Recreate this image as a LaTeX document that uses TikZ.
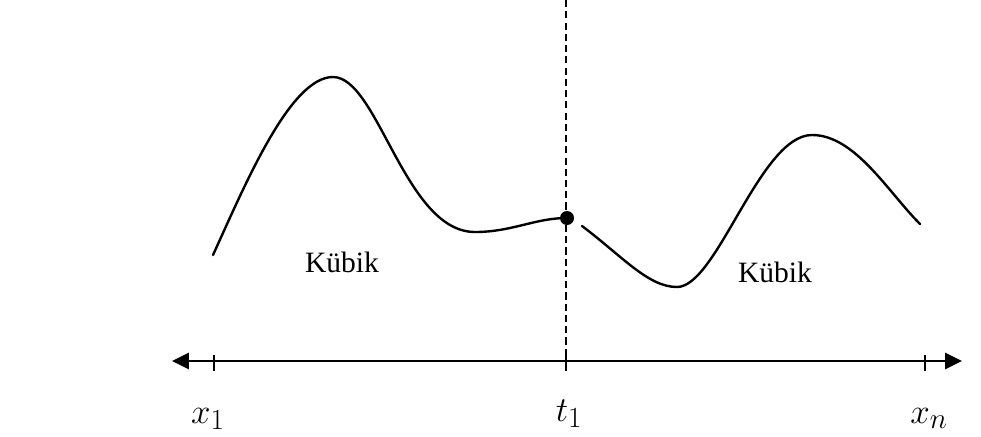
\documentclass[tikz,border=0pt]{standalone}
\usepackage{fontspec}
\usepackage{tikz}
\usetikzlibrary{arrows.meta, positioning, calc}

\newfontfamily\kubikfont{Liberation Serif}

\begin{document}
\begin{tikzpicture}[
    x=0.025cm, y=-0.025cm,
    axis/.style={line width=1.7pt, {Triangle[length=0.42cm, width=0.4cm]}-{Triangle[length=0.42cm, width=0.4cm]}},
    tick/.style={line width=1.1pt},
    spline/.style={line width=1.7pt, line join=round, line cap=round},
    cut/.style={line width=2.1pt, dash pattern=on 5pt off 3pt},
    piece/.style={font=\kubikfont\fontsize{21}{25}\selectfont},
    xlabel/.style={font=\fontsize{24.88}{30}\selectfont, anchor=base}
]

\useasboundingbox (0,0) rectangle (981,436);

% Axis and ticks
\coordinate (left) at (172,361);
\coordinate (right) at (962,361);
\coordinate (x1) at (214,361);
\coordinate (t1) at (566,361);
\coordinate (xn) at (925,361);
\coordinate (top) at (566,0);

\draw[axis] (left) -- (right);
\foreach \p in {x1, t1, xn}
    \draw[tick] ($(\p)+(0,-6)$) -- ($(\p)+(0,10)$);

% Dashed knot line
\draw[cut] (top) -- ($(t1)+(0,8)$);

% Cubic pieces
\draw[spline] (213,255) .. controls (245,185) and (290,77) .. (333,77)
    .. controls (378,77) and (405,232) .. (475,232)
    .. controls (512,232) and (535,218) .. (567,218);
\draw[spline] (582,226) .. controls (622,256) and (648,287) .. (677,287)
    .. controls (717,287) and (760,135) .. (812,135)
    .. controls (855,135) and (888,192) .. (920,224);

% Knot
\node (knot) [circle, fill=black, inner sep=0pt, minimum size=0.35cm] at (567,218) {};

% Labels
\node (kubik1) [piece] at (342,262) {Kübik};
\node (kubik2) [piece] at (775,272) {Kübik};
\node (lx1) [xlabel] at (208,423) {$x_1$};
\node (lt1) [xlabel] at (569,421) {$t_1$};
\node (lxn) [xlabel] at (929,423) {$x_n$};

\end{tikzpicture}
\end{document}
